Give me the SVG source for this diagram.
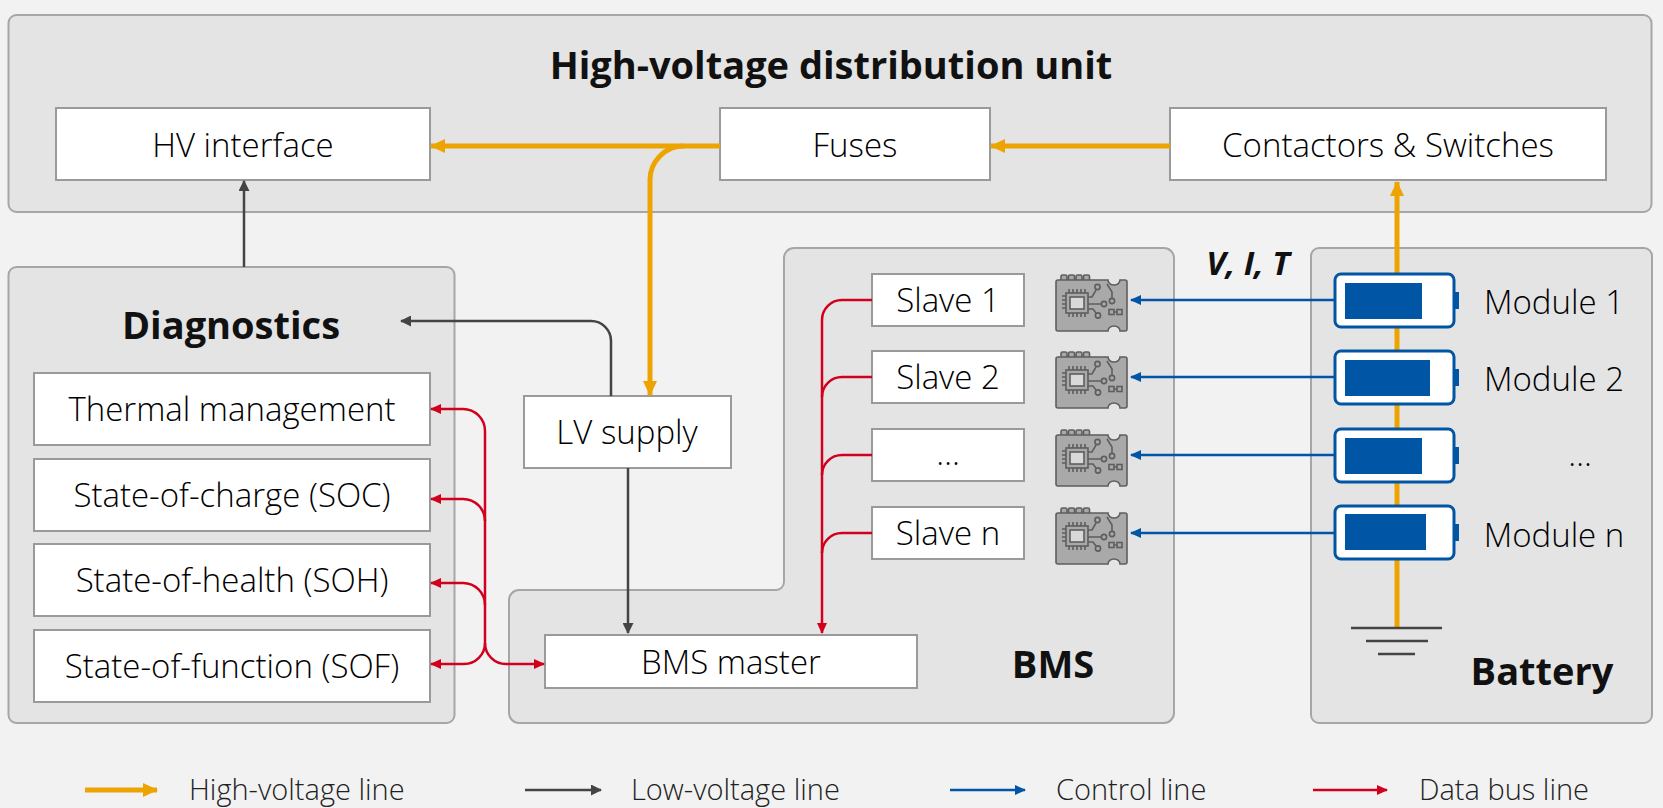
<svg xmlns="http://www.w3.org/2000/svg" width="1663" height="808" viewBox="0 0 1663 808">
<defs>
<style>
.cont{fill:#e4e4e4;stroke:#a6a6a6;stroke-width:2}
.box{fill:#ffffff;stroke:#9a9a9a;stroke-width:2}
.t{font-family:"Open Sans","Noto Sans",sans-serif;font-size:33px;font-weight:300;fill:#000;text-anchor:middle}
.tb{font-family:"Open Sans","Noto Sans",sans-serif;font-size:38px;font-weight:bold;fill:#111;text-anchor:middle}
.lg{font-family:"Open Sans","Noto Sans",sans-serif;font-size:29px;font-weight:300;fill:#222}
.hv{fill:none;stroke:#eea400;stroke-width:5}
.lv{fill:none;stroke:#444;stroke-width:2.5}
.ctl{fill:none;stroke:#0055a4;stroke-width:2.5}
.bus{fill:none;stroke:#d2001c;stroke-width:2.5}
.batt{fill:#fff;stroke:#0055a4;stroke-width:3}
.bfill{fill:#0055a4}
.gnd{stroke:#444;stroke-width:2.5}
.chip{fill:#a9a9a9;stroke:#5e5e5e;stroke-width:1.6}
.tr{fill:none;stroke:#5e5e5e;stroke-width:1.6}
</style>
<marker id="aHV" markerUnits="userSpaceOnUse" markerWidth="15" markerHeight="14" refX="14" refY="7" orient="auto"><path d="M0,0 L15,7 L0,14 z" fill="#eea400"/></marker>
<marker id="aLV" markerUnits="userSpaceOnUse" markerWidth="11" markerHeight="11" refX="10" refY="5.5" orient="auto"><path d="M0,0 L11,5.5 L0,11 z" fill="#444"/></marker>
<marker id="aCT" markerUnits="userSpaceOnUse" markerWidth="11" markerHeight="10" refX="10" refY="5" orient="auto"><path d="M0,0 L11,5 L0,10 z" fill="#0055a4"/></marker>
<marker id="aBU" markerUnits="userSpaceOnUse" markerWidth="11" markerHeight="10" refX="10" refY="5" orient="auto"><path d="M0,0 L11,5 L0,10 z" fill="#d2001c"/></marker>
<symbol id="chip" viewBox="0 0 73 58" width="73" height="58" overflow="visible">
<rect class="chip" x="6" y="1" width="6" height="6" rx="1.5"/>
<rect class="chip" x="13.5" y="1" width="6" height="6" rx="1.5"/>
<rect class="chip" x="21" y="1" width="6" height="6" rx="1.5"/>
<rect class="chip" x="28.5" y="1" width="6" height="6" rx="1.5"/>
<path class="chip" d="M3,6 H53 a6,5 0 0 0 12,0 H70 a2,2 0 0 1 2,2 V55 a2,2 0 0 1 -2,2 H65 a6,5 0 0 0 -12,0 H3 a2,2 0 0 1 -2,-2 V8 a2,2 0 0 1 2,-2 z"/>
<path class="tr" d="M14,15 V19 M18,15 V19 M22,15 V19 M26,15 V19 M30,15 V19 M14,39 V43 M18,39 V43 M22,39 V43 M26,39 V43 M30,39 V43 M7,22 H11 M7,26 H11 M7,30 H11 M7,34 H11"/>
<rect class="chip" x="11" y="19" width="22" height="20"/>
<rect x="15" y="23" width="14" height="12" fill="#d9d9d9" stroke="#5e5e5e" stroke-width="1.6"/>
<path class="tr" d="M33,23 H37 L41,16 M33,30 H46 M33,35 H38 L41,39 M52,10 L57,18 V24 M59,38 H62"/>
<circle class="chip" cx="42.5" cy="13" r="2.6"/>
<circle class="chip" cx="49" cy="30" r="2.6"/>
<circle class="chip" cx="43" cy="41.5" r="2.6"/>
<circle class="chip" cx="57" cy="27" r="2.6"/>
<rect class="chip" x="54" y="35.5" width="5" height="5"/>
<rect class="chip" x="62" y="35.5" width="5" height="5"/>
</symbol>
</defs>
<rect x="0" y="0" width="1663" height="808" fill="#f2f2f2"/>

<g id="hv-unit">
<rect class="cont" x="8.5" y="15" width="1643" height="197" rx="8"/>
<text class="tb" x="831" y="79">High-voltage distribution unit</text>
</g>
<g id="hv-interface"><rect class="box" x="56" y="108" width="374" height="72"/><text class="t" x="243" y="157">HV interface</text></g>
<g id="fuses"><rect class="box" x="720" y="108" width="270" height="72"/><text class="t" x="855" y="157">Fuses</text></g>
<g id="contactors"><rect class="box" x="1170" y="108" width="436" height="72"/><text class="t" x="1388" y="157">Contactors &amp; Switches</text></g>

<g id="diagnostics">
<rect class="cont" x="8.5" y="267" width="446" height="456" rx="8"/>
<text class="tb" x="231" y="339">Diagnostics</text>
</g>
<g id="thermal"><rect class="box" x="34" y="373" width="396" height="72"/><text class="t" x="232" y="421">Thermal management</text></g>
<g id="soc"><rect class="box" x="34" y="459" width="396" height="72"/><text class="t" x="232" y="507">State-of-charge (SOC)</text></g>
<g id="soh"><rect class="box" x="34" y="544" width="396" height="72"/><text class="t" x="232" y="592">State-of-health (SOH)</text></g>
<g id="sof"><rect class="box" x="34" y="630" width="396" height="72"/><text class="t" x="232" y="678">State-of-function (SOF)</text></g>

<g id="bms">
<path class="cont" d="M794,248 H1164 A10,10 0 0 1 1174,258 V713 A10,10 0 0 1 1164,723 H519 A10,10 0 0 1 509,713 V600 A10,10 0 0 1 519,590 H776 A8,8 0 0 0 784,582 V258 A10,10 0 0 1 794,248 z"/>
<text class="tb" x="1053" y="678">BMS</text>
</g>
<g id="bms-master"><rect class="box" x="545" y="635" width="372" height="53"/><text class="t" x="731" y="674">BMS master</text></g>
<g id="slave1"><rect class="box" x="872" y="274" width="152" height="52"/><text class="t" x="948" y="312">Slave 1</text></g>
<g id="slave2"><rect class="box" x="872" y="351" width="152" height="52"/><text class="t" x="948" y="389">Slave 2</text></g>
<g id="slave3"><rect class="box" x="872" y="429" width="152" height="52"/><text class="t" x="948" y="465">…</text></g>
<g id="slaven"><rect class="box" x="872" y="507" width="152" height="52"/><text class="t" x="948" y="545">Slave n</text></g>
<g id="chips">
<use href="#chip" x="1055" y="274"/>
<use href="#chip" x="1055" y="351"/>
<use href="#chip" x="1055" y="429"/>
<use href="#chip" x="1055" y="507"/>
</g>

<g id="lv-supply"><rect class="box" x="524" y="396" width="207" height="72"/><text class="t" x="627" y="444">LV supply</text></g>

<g id="battery">
<rect class="cont" x="1311" y="248" width="341" height="475" rx="8"/>
<text class="tb" x="1542" y="685">Battery</text>
</g>

<g id="connectors">
<path class="hv" d="M1170,146 H991" marker-end="url(#aHV)"/>
<path class="hv" d="M720,146 H431" marker-end="url(#aHV)"/>
<path class="hv" d="M684,146 A34,34 0 0 0 650,180 V395" marker-end="url(#aHV)"/>
<path class="hv" d="M1397,628 V182" marker-end="url(#aHV)"/>
<path class="lv" d="M244,267 V181" marker-end="url(#aLV)"/>
<path class="lv" d="M611,396 V341 A20,20 0 0 0 591,321 H401" marker-end="url(#aLV)"/>
<path class="lv" d="M628,468 V633" marker-end="url(#aLV)"/>
<path class="bus" d="M872,300 H842 A20,20 0 0 0 822,320 V633" marker-end="url(#aBU)"/>
<path class="bus" d="M872,377 H842 A20,20 0 0 0 822,397"/>
<path class="bus" d="M872,455 H842 A20,20 0 0 0 822,475"/>
<path class="bus" d="M872,533 H842 A20,20 0 0 0 822,553"/>
<path class="bus" d="M463,409 A22,22 0 0 1 485,431 V643"/>
<path class="bus" d="M463,409 H431" marker-end="url(#aBU)"/>
<path class="bus" d="M485,521 A22,22 0 0 0 463,499 H431" marker-end="url(#aBU)"/>
<path class="bus" d="M485,605 A22,22 0 0 0 463,583 H431" marker-end="url(#aBU)"/>
<path class="bus" d="M485,643 A21,21 0 0 1 464,664 H431" marker-end="url(#aBU)"/>
<path class="bus" d="M485,643 A21,21 0 0 0 506,664 H544" marker-end="url(#aBU)"/>
<path class="ctl" d="M1334,300 H1131" marker-end="url(#aCT)"/>
<path class="ctl" d="M1334,377 H1131" marker-end="url(#aCT)"/>
<path class="ctl" d="M1334,455 H1131" marker-end="url(#aCT)"/>
<path class="ctl" d="M1334,533 H1131" marker-end="url(#aCT)"/>
</g>

<g id="modules">
<rect class="batt" x="1335" y="274" width="119" height="53" rx="6"/><rect class="bfill" x="1345" y="283" width="77" height="36"/><rect class="bfill" x="1453" y="292" width="6" height="17"/>
<rect class="batt" x="1335" y="351" width="119" height="53" rx="6"/><rect class="bfill" x="1345" y="360" width="85" height="36"/><rect class="bfill" x="1453" y="369" width="6" height="17"/>
<rect class="batt" x="1335" y="429" width="119" height="53" rx="6"/><rect class="bfill" x="1345" y="438" width="77" height="36"/><rect class="bfill" x="1453" y="447" width="6" height="17"/>
<rect class="batt" x="1335" y="506" width="119" height="53" rx="6"/><rect class="bfill" x="1345" y="514" width="81" height="36"/><rect class="bfill" x="1453" y="524" width="6" height="17"/>
<text class="t" x="1554" y="314">Module 1</text>
<text class="t" x="1554" y="391">Module 2</text>
<text class="t" x="1580" y="466">…</text>
<text class="t" x="1554" y="547">Module n</text>
</g>
<g id="ground">
<line class="gnd" x1="1351" y1="628" x2="1442" y2="628"/>
<line class="gnd" x1="1366" y1="641" x2="1428" y2="641"/>
<line class="gnd" x1="1378" y1="654" x2="1415" y2="654"/>
</g>
<text x="1248" y="275" style="font-family:'Open Sans','Noto Sans',sans-serif;font-size:33px;font-weight:bold;font-style:italic;fill:#111;text-anchor:middle">V, I, T</text>

<g id="legend">
<path class="hv" d="M85,790 H157" marker-end="url(#aHV)"/>
<text class="lg" x="189" y="800">High-voltage line</text>
<path class="lv" d="M525,790 H601" marker-end="url(#aLV)"/>
<text class="lg" x="631" y="800">Low-voltage line</text>
<path class="ctl" d="M950,790 H1025" marker-end="url(#aCT)"/>
<text class="lg" x="1056" y="800">Control line</text>
<path class="bus" d="M1313,790 H1387" marker-end="url(#aBU)"/>
<text class="lg" x="1419" y="800">Data bus line</text>
</g>
</svg>
